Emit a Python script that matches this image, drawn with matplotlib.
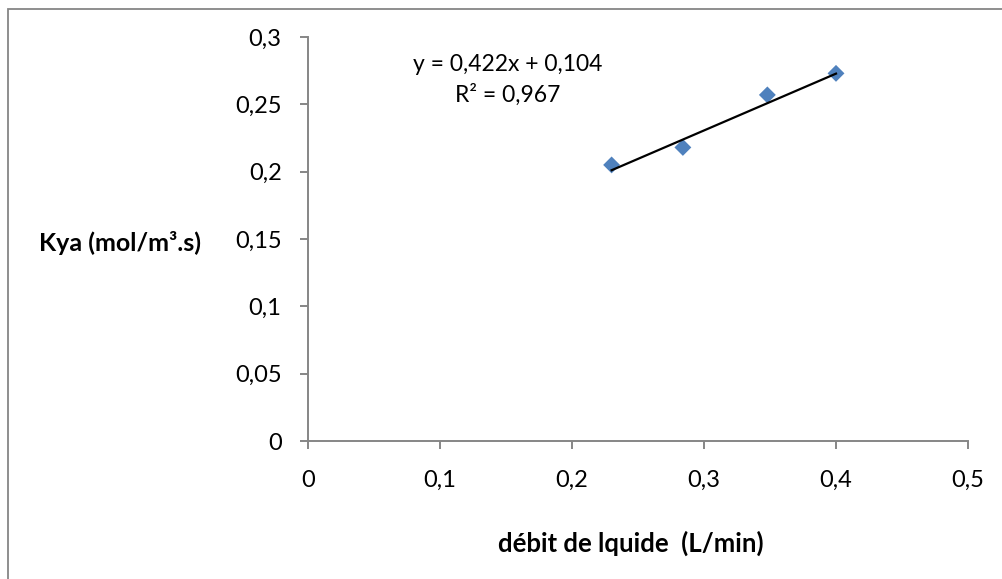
import matplotlib
matplotlib.use("Agg")
import matplotlib.pyplot as plt
from matplotlib.patches import Rectangle
import numpy as np

plt.rcParams['font.family'] = ['Lato', 'DejaVu Sans']

# Liquid flow rate (L/min) and measured Kya (mol/m3.s)
debit = [0.23, 0.284, 0.348, 0.40]
kya = [0.205, 0.218, 0.257, 0.273]

# Linear trend line coefficients as reported
slope = 0.422
intercept = 0.104
r2 = 0.967

x_ticks = [0, 0.1, 0.2, 0.3, 0.4, 0.5]
x_tick_labels = ['0', '0,1', '0,2', '0,3', '0,4', '0,5']
y_ticks = [0, 0.05, 0.1, 0.15, 0.2, 0.25, 0.3]
y_tick_labels = ['0', '0,05', '0,1', '0,15', '0,2', '0,25', '0,3']

W, H = 1003, 579
fig = plt.figure(figsize=(W / 100, H / 100), dpi=100)
fig.patch.set_facecolor('white')

# chart border (only left and top edges fall inside the image)
fig.patches.append(Rectangle((8.5 / W, -0.1), 1.2, 1 - 8.5 / H + 0.1,
                             transform=fig.transFigure, fill=False,
                             edgecolor='#868686', linewidth=1.3))

ax = fig.add_axes([308 / W, 1 - 441 / H, 660 / W, 404 / H])
axis_color = '#868686'

ax.scatter(debit, kya, marker='D', s=8.6 ** 2, color='#4F81BD',
           edgecolors='none', zorder=3, clip_on=False)

xs = np.array([min(debit), max(debit)])
ax.plot(xs, slope * xs + intercept, color='black', linewidth=1.6, zorder=4)

ax.set_xlim(0, 0.5)
ax.set_ylim(0, 0.3)
ax.set_xticks(x_ticks)
ax.set_xticklabels(x_tick_labels)
ax.set_yticks(y_ticks)
ax.set_yticklabels(y_tick_labels)

for side in ('top', 'right'):
    ax.spines[side].set_visible(False)
for side in ('left', 'bottom'):
    ax.spines[side].set_color(axis_color)
    ax.spines[side].set_linewidth(1.4)

ax.tick_params(axis='both', direction='out', length=6, width=1.4,
               color=axis_color, labelsize=17, labelcolor='black')
ax.tick_params(axis='y', pad=13)
ax.tick_params(axis='x', pad=15)

fmt = lambda v: f"{v:.3f}".replace('.', ',')
ax.text(508 / W, 1 - 80 / H,
        f"y = {fmt(slope)}x + {fmt(intercept)}\nR² = {fmt(r2)}",
        transform=fig.transFigure, ha='center', va='center',
        fontsize=16.5, linespacing=1.45)

fig.text(631 / W, 1 - 543 / H, 'débit de lquide  (L/min)', ha='center',
         va='center', fontsize=18.5, fontweight='bold')
fig.text(120 / W, 1 - 243 / H, 'Kya (mol/m³.s)', ha='center',
         va='center', fontsize=18, fontweight='bold')

fig.savefig('out.png', dpi=100, facecolor='white')
